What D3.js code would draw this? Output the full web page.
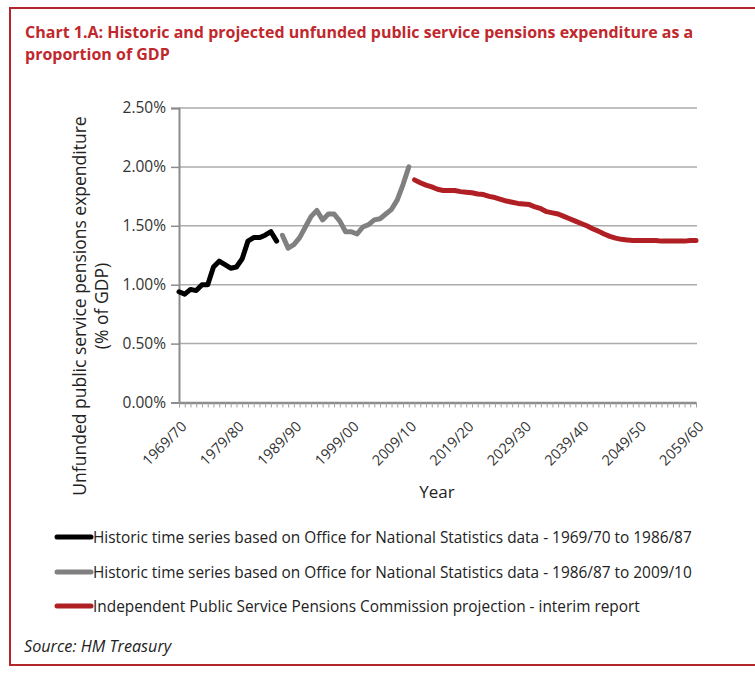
<!DOCTYPE html>
<html>
<head>
<meta charset="utf-8">
<script src="https://cdn.jsdelivr.net/npm/d3@7"></script>
<style>
  body { margin: 0; background: #fff; }
  svg text { font-family: "Open Sans", "Noto Sans", sans-serif; }
</style>
</head>
<body>
<div class="container"></div>
<script>
const WIDTH = 755;
const HEIGHT = 673;

// first year of the category axis and the number of yearly categories
const FIRST_YEAR = 1969;
const N_YEARS = 91;

const tickLabels = ["1969/70", "1979/80", "1989/90", "1999/00", "2009/10",
                    "2019/20", "2029/30", "2039/40", "2049/50", "2059/60"];
const yTicks = [0, 0.5, 1.0, 1.5, 2.0, 2.5];

// % of GDP, black series starts 1969/70
const onsEarly = [0.94, 0.92, 0.96, 0.95, 1.00, 1.00, 1.15, 1.20, 1.17, 1.14,
                  1.15, 1.22, 1.37, 1.40, 1.40, 1.42, 1.45, 1.37];
const onsEarlyStart = 0;

// grey series starts 1987/88
const onsLate = [1.42, 1.31, 1.34, 1.40, 1.49, 1.58, 1.63, 1.55, 1.60, 1.60,
                 1.54, 1.45, 1.45, 1.43, 1.49, 1.51, 1.55, 1.56, 1.60, 1.64,
                 1.72, 1.85, 2.00];
const onsLateStart = 18;

// red projection starts 2010/11
const ipspc = [1.89, 1.865, 1.845, 1.83, 1.81, 1.80, 1.80, 1.80, 1.79, 1.785,
               1.78, 1.77, 1.765, 1.75, 1.74, 1.725, 1.71, 1.70, 1.69, 1.685,
               1.68, 1.66, 1.645, 1.62, 1.61, 1.60, 1.58, 1.56, 1.54, 1.52,
               1.50, 1.475, 1.455, 1.43, 1.41, 1.395, 1.385, 1.38, 1.375, 1.375,
               1.375, 1.375, 1.375, 1.37, 1.37, 1.37, 1.37, 1.37, 1.375, 1.375];
const ipspcStart = 41;

const legendLabels = [
  "Historic time series based on Office for National Statistics data - 1969/70 to 1986/87",
  "Historic time series based on Office for National Statistics data - 1986/87 to 2009/10",
  "Independent Public Service Pensions Commission projection - interim report"
];
const colors = ["#000000", "#808080", "#b01f24"];

const yearLabel = function(y) {
  return y + "/" + String((y + 1) % 100).padStart(2, "0");
};
const categories = d3.range(N_YEARS).map(function(i) { return yearLabel(FIRST_YEAR + i); });

const PLOT_LEFT = 179, PLOT_RIGHT = 696, PLOT_TOP = 108, PLOT_BOTTOM = 402.5;

var xScale = d3.scalePoint()
    .domain(categories)
    .range([PLOT_LEFT, PLOT_RIGHT]);

var yScale = d3.scaleLinear()
    .domain([0, 2.5])
    .range([PLOT_BOTTOM, PLOT_TOP]);

var toPoints = function(values, start) {
  return values.map(function(v, i) { return {cat: categories[start + i], v: v}; });
};

var svg = d3.select(".container").append("svg")
    .attr("width", WIDTH)
    .attr("height", HEIGHT);

// frame
svg.append("rect")
    .attr("x", 10).attr("y", 8)
    .attr("width", 800).attr("height", 657)
    .attr("fill", "none")
    .attr("stroke", "#b3262b")
    .attr("stroke-width", 2);

// title
var title = svg.append("text")
    .attr("fill", "#c0282d")
    .attr("font-weight", "bold")
    .attr("font-size", 16);
title.append("tspan").attr("x", 25).attr("y", 38)
    .text("Chart 1.A: Historic and projected unfunded public service pensions expenditure as a");
title.append("tspan").attr("x", 25).attr("y", 60)
    .text("proportion of GDP");

// gridlines
svg.append("g").selectAll("line")
    .data(yTicks.filter(function(d) { return d > 0; }))
    .enter().append("line")
    .attr("x1", PLOT_LEFT).attr("x2", PLOT_RIGHT + 1)
    .attr("y1", function(d) { return yScale(d); })
    .attr("y2", function(d) { return yScale(d); })
    .attr("stroke", "#acacac")
    .attr("stroke-width", 1.5);

// y axis
var yAxis = d3.axisLeft(yScale)
    .tickValues(yTicks)
    .tickSize(8)
    .tickPadding(5)
    .tickFormat(function(d) { return d.toFixed(2) + "%"; });

var yG = svg.append("g")
    .attr("transform", "translate(" + PLOT_LEFT + ",0)")
    .call(yAxis);
yG.select(".domain").attr("stroke", "#8c8c8c").attr("stroke-width", 2);
yG.selectAll(".tick line").attr("stroke", "#8c8c8c").attr("stroke-width", 1.5);
yG.selectAll(".tick text")
    .attr("font-size", 15.5)
    .attr("fill", "#333")
    .style("font-family", "'Open Sans', sans-serif");

// x axis with a tick for every year
var xAxis = d3.axisBottom(xScale)
    .tickSize(5)
    .tickSizeOuter(0)
    .tickFormat(function(d) { return tickLabels.indexOf(d) >= 0 ? d : ""; });

var xG = svg.append("g")
    .attr("transform", "translate(0," + PLOT_BOTTOM + ")")
    .call(xAxis);
xG.select(".domain").attr("stroke", "#8c8c8c").attr("stroke-width", 2.5);
xG.selectAll(".tick line").attr("stroke", "#a0a0a0").attr("stroke-width", 1);
xG.selectAll(".tick text")
    .attr("font-size", 14.5)
    .attr("fill", "#333")
    .attr("text-anchor", "end")
    .attr("dy", 0)
    .attr("y", 0)
    .attr("transform", "translate(8,25) rotate(-45)")
    .style("font-family", "'Open Sans', sans-serif");

// axis titles
svg.append("text")
    .attr("x", 437).attr("y", 498)
    .attr("text-anchor", "middle")
    .attr("font-size", 17)
    .attr("fill", "#222")
    .text("Year");

var yTitle = svg.append("text")
    .attr("transform", "translate(86,306) rotate(-90)")
    .attr("text-anchor", "middle")
    .attr("font-size", 17.5)
    .attr("fill", "#222");
yTitle.append("tspan").attr("x", 0).attr("y", 0)
    .text("Unfunded public service pensions expenditure");
yTitle.append("tspan").attr("x", 0).attr("y", 22)
    .text("(% of GDP)");

// series
var line = d3.line()
    .x(function(d) { return xScale(d.cat); })
    .y(function(d) { return yScale(d.v); });

var series = [
  toPoints(onsEarly, onsEarlyStart),
  toPoints(onsLate, onsLateStart),
  toPoints(ipspc, ipspcStart)
];

svg.append("g").selectAll("path")
    .data(series)
    .enter().append("path")
    .attr("d", line)
    .attr("fill", "none")
    .attr("stroke", function(d, i) { return colors[i]; })
    .attr("stroke-width", 5)
    .attr("stroke-linejoin", "round")
    .attr("stroke-linecap", "round");

// legend
var legend = svg.append("g").selectAll("g")
    .data(legendLabels)
    .enter().append("g")
    .attr("transform", function(d, i) { return "translate(0," + [537, 572, 606][i] + ")"; });

legend.append("line")
    .attr("x1", 57).attr("x2", 91)
    .attr("y1", 0).attr("y2", 0)
    .attr("stroke", function(d, i) { return colors[i]; })
    .attr("stroke-width", 5)
    .attr("stroke-linecap", "round");

legend.append("text")
    .attr("x", 93).attr("y", 5.5)
    .attr("font-size", 15.4)
    .attr("fill", "#222")
    .text(function(d) { return d; });

// source
svg.append("text")
    .attr("x", 24).attr("y", 652)
    .attr("font-size", 16.2)
    .attr("font-style", "italic")
    .attr("fill", "#222")
    .text("Source: HM Treasury");
</script>
</body>
</html>
